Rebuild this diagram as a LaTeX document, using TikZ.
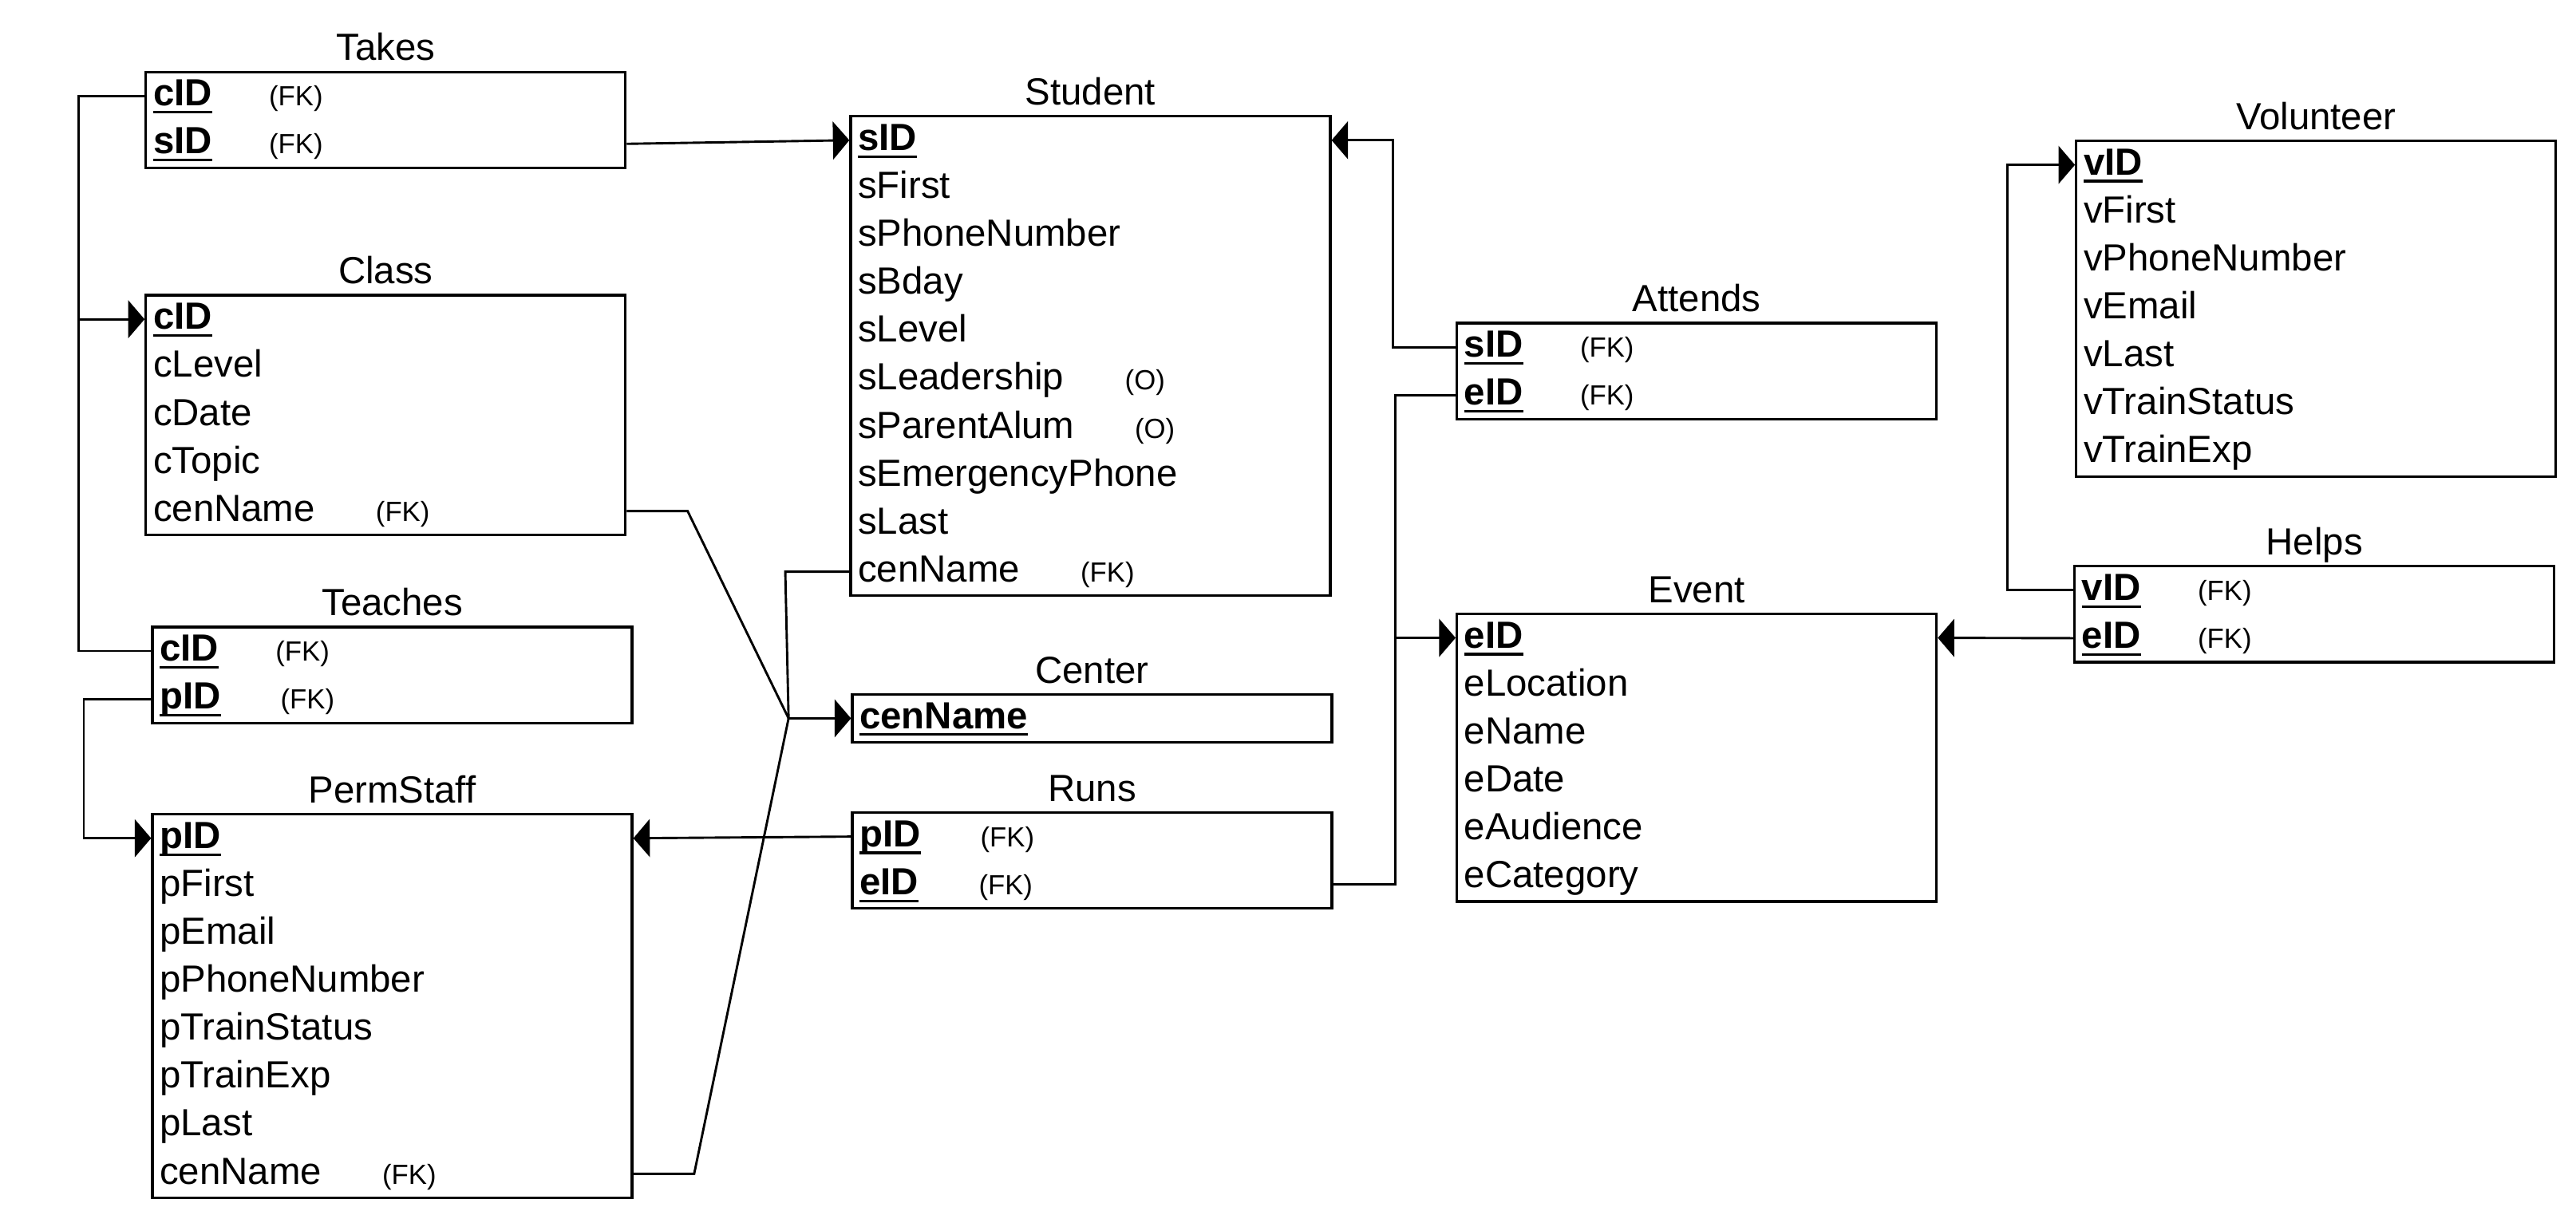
\documentclass[tikz,border=0pt]{standalone}
\usepackage{fontspec}
\setmainfont{Liberation Sans}
\usetikzlibrary{arrows.meta,positioning,matrix,calc}
\newlength{\erkeylen}
\newcommand{\erkey}[1]{\settowidth{\erkeylen}{\textbf{#1}}%
  \textbf{#1}\hspace{-\erkeylen}\rule[-2.6pt]{\erkeylen}{0.9pt}}
\newcommand{\ernote}{\fontsize{9.6}{11}\selectfont}
\newcommand{\erfk}[3][1.41cm]{\makebox[#1][l]{#2}{\ernote #3}}
\tikzset{
  er/.style={font=\fontsize{13.1}{15}\selectfont, x=0.02cm, y=-0.02cm},
  erow/.style={text width=5.66cm, inner xsep=0.09cm, inner ysep=0pt,
    minimum height=0.584cm, text height=9.6pt, text depth=2.6pt, align=left},
  etable/.style={matrix of nodes, draw, line width=0.9pt, inner sep=0pt,
    row sep=0pt, anchor=north west, nodes={erow}},
  etitle/.style={inner sep=0pt, text depth=0pt},
  erline/.style={line width=0.8pt},
  erarr/.style={erline, -{Triangle[length=2mm,width=4.6mm]}},
}

\begin{document}
\begin{tikzpicture}[er]
  \useasboundingbox (0,0) rectangle (1568,742);
  % left column
  \matrix[etable] (takes) at (88,43) {
    \erfk{\erkey{cID}}{(FK)}\\
    \erfk{\erkey{sID}}{(FK)}\\
  };
  \node[etitle, above=3.3pt of takes] {Takes};
  \matrix[etable] (class) at (88,179) {
    \erkey{cID}\\ cLevel\\ cDate\\ cTopic\\
    \erfk[2.71cm]{cenName}{(FK)}\\
  };
  \node[etitle, above=3.3pt of class] {Class};
  \matrix[etable] (teaches) at (92,381) {
    \erfk{\erkey{cID}}{(FK)}\\
    \erfk[1.47cm]{\erkey{pID}}{(FK)}\\
  };
  \node[etitle, above=3.3pt of teaches] {Teaches};
  \matrix[etable] (perm) at (92,495) {
    \erkey{pID}\\ pFirst\\ pEmail\\ pPhoneNumber\\ pTrainStatus\\ pTrainExp\\ pLast\\
    \erfk[2.71cm]{cenName}{(FK)}\\
  };
  \node[etitle, above=3.3pt of perm] {PermStaff};
  % middle column
  \matrix[etable] (stu) at (517,70) {
    \erkey{sID}\\ sFirst\\ sPhoneNumber\\ sBday\\ sLevel\\
    \erfk[3.25cm]{sLeadership}{(O)}\\
    \erfk[3.37cm]{sParentAlum}{(O)}\\
    sEmergencyPhone\\ sLast\\
    \erfk[2.71cm]{cenName}{(FK)}\\
  };
  \node[etitle, above=3.3pt of stu] {Student};
  \matrix[etable] (center) at (518,422) {
    \erkey{cenName}\\
  };
  \node[etitle, above=3.3pt of center] {Center};
  \matrix[etable] (runs) at (518,494) {
    \erfk[1.47cm]{\erkey{pID}}{(FK)}\\
    \erfk[1.45cm]{\erkey{eID}}{(FK)}\\
  };
  \node[etitle, above=3.3pt of runs] {Runs};
  \matrix[etable] (attends) at (886,196) {
    \erfk{\erkey{sID}}{(FK)}\\
    \erfk{\erkey{eID}}{(FK)}\\
  };
  \node[etitle, above=3.3pt of attends] {Attends};
  \matrix[etable] (event) at (886,373) {
    \erkey{eID}\\ eLocation\\ eName\\ eDate\\ eAudience\\ eCategory\\
  };
  \node[etitle, above=3.3pt of event] {Event};
  % right column
  \matrix[etable] (vol) at (1263,85) {
    \erkey{vID}\\ vFirst\\ vPhoneNumber\\ vEmail\\ vLast\\ vTrainStatus\\ vTrainExp\\
  };
  \node[etitle, above=3.3pt of vol] {Volunteer};
  \matrix[etable] (helps) at (1262,344) {
    \erfk{\erkey{vID}}{(FK)}\\
    \erfk{\erkey{eID}}{(FK)}\\
  };
  \node[etitle, above=3.3pt of helps] {Helps};
  % connectors
  \coordinate (tkbus) at ($(takes-1-1.west)+(-40,0)$);
  \draw[erline] (takes-1-1.west) -- (tkbus) |- (teaches-1-1.west);
  \draw[erarr] (tkbus |- class-1-1.west) -- (class-1-1.west);
  \draw[erarr] (takes-2-1.east) -- (stu-1-1.west);
  \draw[erarr] (teaches-2-1.west) -- ++(-41,0) |- (perm-1-1.west);
  \coordinate (cjunc) at ($(center-1-1.west)+(-38,0)$);
  \draw[erline] (class-5-1.east) -- ++(37,0) -- (cjunc);
  \draw[erline] (stu-10-1.west) -- ++(-39,0) -- (cjunc);
  \draw[erline] (perm-8-1.east) -- ++(37,0) -- (cjunc);
  \draw[erarr] (cjunc) -- (center-1-1.west);
  \draw[erarr] (runs-1-1.west) -- (perm-1-1.east);
  \coordinate (evbus) at ($(runs-2-1.east)+(38,0)$);
  \draw[erline] (attends-2-1.west) -| (evbus) -- (runs-2-1.east);
  \draw[erarr] (evbus |- event-1-1.west) -- (event-1-1.west);
  \draw[erarr] (attends-1-1.west) -- ++(-38,0) |- (stu-1-1.east);
  \draw[erarr] (helps-1-1.west) -- ++(-40,0) |- (vol-1-1.west);
  \draw[erarr] (helps-2-1.west) -- (event-1-1.east);
\end{tikzpicture}
\end{document}
